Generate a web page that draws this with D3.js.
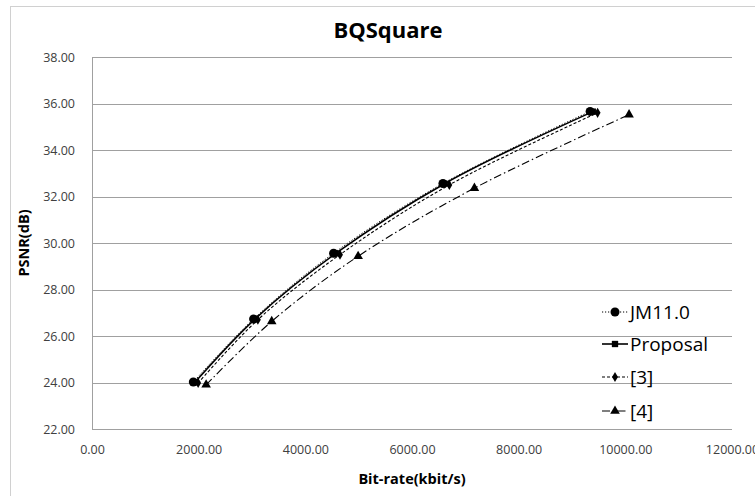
<!DOCTYPE html>
<html>
<head>
<meta charset="utf-8">
<script src="https://cdn.jsdelivr.net/npm/d3@7"></script>
<style>
  body { margin: 0; background: #fff; }
  text { font-family: "Open Sans", "Liberation Sans", sans-serif; }
</style>
</head>
<body>
<svg width="755" height="496"></svg>
<script>
// data
const seriesNames = ["JM11.0", "Proposal", "[3]", "[4]"];
const jmRate = [1900, 3030, 4530, 6580, 9340];
const jmPsnr = [24.02, 26.73, 29.56, 32.56, 35.66];
const propRate = [1930, 3060, 4570, 6610, 9390];
const propPsnr = [24.01, 26.74, 29.55, 32.55, 35.65];
const refThreeRate = [1990, 3110, 4650, 6700, 9480];
const refThreePsnr = [23.98, 26.70, 29.50, 32.50, 35.60];
const refFourRate = [2140, 3370, 4990, 7170, 10070];
const refFourPsnr = [23.90, 26.63, 29.43, 32.36, 35.52];
const xTicks = [0, 2000, 4000, 6000, 8000, 10000, 12000];
const yTicks = [22, 24, 26, 28, 30, 32, 34, 36, 38];

var svg = d3.select("svg");
const margin = { top: 57, right: 23, bottom: 67, left: 92 };
const width = 755 - margin.left - margin.right;
const height = 496 - margin.top - margin.bottom;

// chart frame
svg.append("rect")
    .attr("x", 10.5).attr("y", 6.5)
    .attr("width", 760).attr("height", 500)
    .attr("fill", "#fff").attr("stroke", "#d0d0d0");

var x = d3.scaleLinear().domain([0, 12000]).range([0, width]);
var y = d3.scaleLinear().domain([22, 38]).range([height, 0]);

var g = svg.append("g").attr("transform", `translate(${margin.left},${margin.top})`);

// gridlines
g.selectAll(".grid").data(yTicks).enter().append("line")
    .attr("x1", 0).attr("x2", width)
    .attr("y1", d => Math.round(y(d)) + 0.5).attr("y2", d => Math.round(y(d)) + 0.5)
    .attr("stroke", "#a0a0a0").attr("stroke-width", 1);
g.append("line")
    .attr("x1", 0.5).attr("x2", 0.5).attr("y1", 0).attr("y2", height)
    .attr("stroke", "#a0a0a0");

// axes
var yAxis = g.append("g").call(d3.axisLeft(y).tickValues(yTicks).tickFormat(d3.format(".2f")).tickSize(0).tickPadding(17));
var xAxis = g.append("g").attr("transform", `translate(0,${height})`)
    .call(d3.axisBottom(x).tickValues(xTicks).tickFormat(d3.format(".2f")).tickSize(0).tickPadding(16));
[xAxis, yAxis].forEach(a => {
    a.select(".domain").remove();
    a.selectAll("text").attr("fill", "#404040").style("font-size", "12.5px")
        .style("font-family", "'Open Sans', sans-serif");
});

// series
const series = [
    { name: seriesNames[0], rate: jmRate, psnr: jmPsnr, dash: "1.2,1.8", sym: d3.symbolCircle, size: 64, lw: 1 },
    { name: seriesNames[1], rate: propRate, psnr: propPsnr, dash: null, sym: d3.symbolSquare, size: 40, lw: 1.6 },
    { name: seriesNames[2], rate: refThreeRate, psnr: refThreePsnr, dash: "3,2", sym: d3.symbolDiamond, size: 30, lw: 1.1 },
    { name: seriesNames[3], rate: refFourRate, psnr: refFourPsnr, dash: "8,3,1.5,3", sym: d3.symbolTriangle, size: 40, lw: 1.1 }
];

var line = d3.line().x(d => x(d[0])).y(d => y(d[1])).curve(d3.curveCatmullRom.alpha(0.5));

series.forEach(s => {
    const pts = s.rate.map((r, i) => [r, s.psnr[i]]);
    g.append("path").datum(pts)
        .attr("d", line)
        .attr("fill", "none").attr("stroke", "#000")
        .attr("stroke-width", s.lw)
        .attr("stroke-dasharray", s.dash);
    g.selectAll(null).data(pts).enter().append("path")
        .attr("d", d3.symbol().type(s.sym).size(s.size))
        .attr("transform", d => `translate(${x(d[0])},${y(d[1])})`)
        .attr("fill", "#000");
});

// legend
const legendY = [312, 344, 377, 411];
var legend = svg.append("g");
series.forEach((s, i) => {
    const row = legend.append("g").attr("transform", `translate(602,${legendY[i]})`);
    row.append("line").attr("x1", 0).attr("x2", 26).attr("y1", 0).attr("y2", 0)
        .attr("stroke", "#000").attr("stroke-width", s.lw).attr("stroke-dasharray", s.dash);
    row.append("path").attr("d", d3.symbol().type(s.sym).size(s.size))
        .attr("transform", "translate(13,0)").attr("fill", "#000");
    row.append("text").attr("x", 28).attr("y", 0).attr("dy", "0.35em")
        .style("font-size", "19px").attr("fill", "#000").text(s.name);
});

// titles
svg.append("text").attr("x", 388).attr("y", 38).attr("text-anchor", "middle")
    .style("font-size", "22px").style("font-weight", "bold").text("BQSquare");
svg.append("text").attr("x", margin.left + width / 2).attr("y", 484).attr("text-anchor", "middle")
    .style("font-size", "14.5px").style("font-weight", "bold").text("Bit-rate(kbit/s)");
svg.append("text").attr("transform", `translate(29,${margin.top + height / 2}) rotate(-90)`)
    .attr("text-anchor", "middle")
    .style("font-size", "14.5px").style("font-weight", "bold").text("PSNR(dB)");
</script>
</body>
</html>
